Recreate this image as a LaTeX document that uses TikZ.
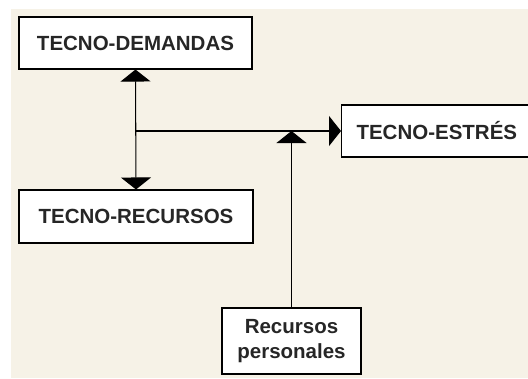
\documentclass[tikz,border=0pt]{standalone}
\usepackage{fontspec}
\setmainfont{Liberation Sans}
\usetikzlibrary{arrows.meta}
\definecolor{cream}{HTML}{F6F2E7}

\begin{document}
\begin{tikzpicture}[x=0.03cm, y=-0.03cm,
	box/.style={draw, line width=0.9pt, fill=white, inner sep=0pt,
		font=\fontsize{17.5}{21}\selectfont\bfseries, text=black!85},
	tri/.style={-{Triangle[width=0.9cm, length=0.36cm]}},
	bitri/.style={{Triangle[width=0.9cm, length=0.36cm]}-{Triangle[width=0.9cm, length=0.36cm]}}]
	
	% Frame
	\useasboundingbox (0,0) rectangle (528,378);
	\fill[cream] (11,9) rectangle (528,378);
	
	% Boxes
	\node[box, minimum width=6.99cm, minimum height=1.56cm] (dem) at (135.5,43) {TECNO-DEMANDAS};
	\node[box, minimum width=7.02cm, minimum height=1.59cm] (rec) at (136,216.5) {TECNO-RECURSOS};
	\node[box, anchor=west, minimum height=1.56cm, inner xsep=0.45cm, text width=5.1cm, align=left] (est) at (341,131) {TECNO-ESTRÉS};
	\node[box, minimum width=4.17cm, minimum height=1.98cm, align=center] (per) at (291.5,341) {Recursos\\personales};
	
	% Coordinates
	\coordinate (junction) at (dem.south |- est.west);
	\coordinate (meet) at (per.north |- est.west);
	
	% Connectors
	\draw[line width=0.9pt, bitri] (dem.south) -- (rec.north);
	\draw[line width=0.9pt, tri] (junction) -- (est.west);
	\draw[line width=0.9pt, tri] (per.north) -- (meet);
	
\end{tikzpicture}
\end{document}
